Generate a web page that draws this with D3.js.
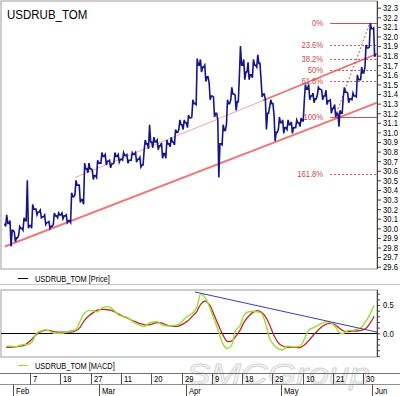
<!DOCTYPE html>
<html>
<head>
<meta charset="utf-8">
<script src="https://cdn.jsdelivr.net/npm/d3@7"></script>
<style>
  html, body { margin: 0; padding: 0; background: #fff; }
  svg { display: block; font-family: "Liberation Sans", Arial, sans-serif; }
</style>
</head>
<body>
<svg id="chart" width="400" height="396"></svg>
<script>
// ---- data ----
const symbol = "USDRUB_TOM";
const firstDay = "2013-01-30";
const lastDay = "2013-06-03";
const holidays = ["2013-03-08", "2013-05-01", "2013-05-09"];
const dayTicks = ["2013-02-07", "2013-02-18", "2013-02-27", "2013-03-11", "2013-03-20", "2013-03-29",
  "2013-04-09", "2013-04-18", "2013-04-29", "2013-05-10", "2013-05-21", "2013-05-30"];

// daily high / low / close (one entry per trading day)
const highs = [30.14, 30.08, 29.96, 30.02, 30.11, 30.5, 30.25, 30.2, 30.19, 30.14,
  30.07, 30.16, 30.16, 30.16, 30.14, 30.37, 30.5, 30.45, 30.68, 30.68,
  30.61, 30.71, 30.79, 30.77, 30.71, 30.79, 30.77, 30.79, 30.77, 30.79,
  30.79, 30.74, 30.92, 31.08, 30.95, 30.92, 30.89, 30.92, 30.95, 31.03,
  31.13, 31.13, 31.18, 31.34, 31.77, 31.76, 31.7, 31.52, 31.37, 31.13,
  31.08, 31.34, 31.47, 31.39, 31.9, 31.76, 31.73, 31.76, 31.81, 31.55,
  31.34, 31.34, 31.18, 31.16, 31.13, 31.13, 31.11, 31.13, 31.15, 31.5,
  31.5, 31.41, 31.47, 31.44, 31.44, 31.34, 31.29, 31.23, 31.47, 31.41,
  31.41, 31.6, 31.68, 31.91, 32.14, 32.09];
const lows = [30.02, 29.81, 29.86, 29.93, 29.98, 30.0, 30.0, 30.14, 30.11, 30.04,
  30.0, 30.04, 30.11, 30.1, 30.06, 30.06, 30.35, 30.27, 30.25, 30.58,
  30.51, 30.53, 30.68, 30.66, 30.63, 30.68, 30.69, 30.71, 30.68, 30.71,
  30.69, 30.64, 30.82, 30.83, 30.84, 30.82, 30.73, 30.73, 30.85, 30.87,
  31.03, 31.03, 31.05, 31.16, 31.29, 31.63, 31.53, 31.34, 31.16, 30.53,
  30.87, 31.08, 31.34, 31.23, 31.6, 31.55, 31.55, 31.57, 31.68, 31.37,
  31.03, 31.27, 30.91, 31.03, 30.99, 31.03, 30.99, 31.05, 31.06, 31.34,
  31.34, 31.31, 31.39, 31.34, 31.29, 31.2, 31.16, 31.06, 31.37, 31.31,
  31.34, 31.37, 31.55, 31.68, 31.89, 31.79];
const closes = [30.05, 29.98, 29.9, 30.0, 30.08, 30.03, 30.2, 30.17, 30.12, 30.06,
  30.02, 30.13, 30.14, 30.13, 30.08, 30.33, 30.45, 30.3, 30.62, 30.62,
  30.55, 30.68, 30.75, 30.7, 30.67, 30.75, 30.72, 30.76, 30.71, 30.77,
  30.72, 30.66, 30.88, 30.9, 30.9, 30.86, 30.78, 30.88, 30.9, 31.0,
  31.08, 31.1, 31.15, 31.3, 31.7, 31.68, 31.58, 31.38, 31.2, 30.88,
  31.02, 31.3, 31.4, 31.32, 31.7, 31.63, 31.6, 31.7, 31.72, 31.4,
  31.2, 31.3, 31.0, 31.1, 31.05, 31.08, 31.05, 31.1, 31.12, 31.45,
  31.38, 31.35, 31.45, 31.38, 31.33, 31.25, 31.2, 31.2, 31.42, 31.35,
  31.38, 31.55, 31.62, 31.88, 32.08, 31.82];

const macd = [-0.23, -0.23, -0.24, -0.22, -0.2, -0.2, -0.15, 0.0, 0.04, 0.06,
  0.04, 0.0, 0.0, 0.0, 0.02, 0.05, 0.06, 0.2, 0.35, 0.4,
  0.4, 0.38, 0.44, 0.47, 0.46, 0.4, 0.32, 0.3, 0.28, 0.22,
  0.17, 0.14, 0.12, 0.18, 0.2, 0.2, 0.15, 0.13, 0.13, 0.14,
  0.16, 0.24, 0.3, 0.35, 0.45, 0.7, 0.62, 0.46, 0.25, 0.05,
  -0.18, -0.27, -0.22, 0.05, 0.13, 0.33, 0.38, 0.39, 0.38, 0.35,
  0.15, -0.12, -0.22, -0.28, -0.29, -0.23, -0.24, -0.24, -0.22, -0.08,
  0.06, 0.1, 0.14, 0.18, 0.2, 0.19, 0.12, 0.01, 0.0, 0.05,
  0.05, 0.07, 0.1, 0.2, 0.33, 0.5];
const signal = [-0.25, -0.25, -0.24, -0.23, -0.22, -0.17, -0.1, -0.02, 0.03, 0.05,
  0.05, 0.03, 0.02, 0.02, 0.02, 0.02, 0.04, 0.1, 0.22, 0.3,
  0.36, 0.41, 0.42, 0.42, 0.41, 0.38, 0.34, 0.3, 0.27, 0.23,
  0.2, 0.17, 0.15, 0.15, 0.17, 0.19, 0.18, 0.15, 0.13, 0.12,
  0.13, 0.17, 0.22, 0.3, 0.38, 0.52, 0.57, 0.5, 0.33, 0.15,
  -0.02, -0.14, -0.14, -0.06, 0.05, 0.2, 0.3, 0.37, 0.4, 0.37,
  0.28, 0.12, -0.06, -0.18, -0.23, -0.25, -0.25, -0.25, -0.25, -0.2,
  -0.12, -0.03, 0.05, 0.12, 0.16, 0.18, 0.15, 0.09, 0.04, 0.03,
  0.04, 0.04, 0.05, 0.08, 0.17, 0.3];

// drawn studies: [trading-day index, value]
const channelLower = [[0.2, 29.81], [86.2, 31.31]];
const channelUpper = [[16.4, 30.53], [86.2, 31.82]];
const channelUpperBold = 59.8; // upper line is drawn heavier from this day on
const macdTrend = [[44.1, 0.73], [86.2, 0.02]];
const fibLevels = [0, 0.236, 0.382, 0.5, 0.618, 1, 1.618];
const fibLow = [76.5, 31.165];
const fibHigh = [84.5, 32.14];

// ---- layout ----
const svg = d3.select("#chart");
const main = { left: 1, right: 377, top: 1, bottom: 269 };
const osc = { top: 290, bottom: 357 };
const frameColor = "#9c9c9c";
const axisColor = "#404040";

// trading calendar
const fmtDay = d3.timeFormat("%Y-%m-%d");
const parse = d3.timeParse("%Y-%m-%d");
const tradingDays = d3.timeDay.range(parse(firstDay), d3.timeDay.offset(parse(lastDay), 1))
  .filter(d => d.getDay() !== 0 && d.getDay() !== 6 && !holidays.includes(fmtDay(d)));
const dayIndex = s => tradingDays.findIndex(d => fmtDay(d) === s);

const x = d3.scaleLinear().domain([0, 86]).range([4.03, 376.3]);
const y = d3.scaleLinear().domain([29.6, 32.3]).range([266.7, 7.7]);
const ym = d3.scaleLinear().domain([-0.42, 0.765]).range([osc.bottom, osc.top]);

function squeeze(sel, k) {
  sel.each(function() {
    const w = this.getComputedTextLength();
    d3.select(this).attr("textLength", w * k).attr("lengthAdjust", "spacingAndGlyphs");
  });
}

// watermark behind everything
svg.append("text")
  .attr("x", 186).attr("y", 384)
  .attr("font-size", 30).attr("font-style", "italic")
  .attr("fill", "#f3f3f3").attr("stroke", "#d4d4d4").attr("stroke-width", 0.8)
  .attr("textLength", 184).attr("lengthAdjust", "spacingAndGlyphs")
  .text("SMCGroup");

// ---- frames ----
svg.append("rect")
  .attr("x", main.left).attr("y", main.top)
  .attr("width", main.right - main.left).attr("height", main.bottom - main.top)
  .attr("fill", "none").attr("stroke", frameColor);
svg.append("line").attr("x1", 0).attr("x2", 400).attr("y1", 284.5).attr("y2", 284.5)
  .attr("stroke", "#c8c8c8");
svg.append("rect")
  .attr("x", main.left).attr("y", osc.top)
  .attr("width", main.right - main.left).attr("height", osc.bottom - osc.top)
  .attr("fill", "none").attr("stroke", frameColor);

const defs = svg.append("defs");
defs.append("clipPath").attr("id", "clipMain").append("rect")
  .attr("x", main.left).attr("y", main.top)
  .attr("width", main.right - main.left).attr("height", main.bottom - main.top);
defs.append("clipPath").attr("id", "clipOsc").append("rect")
  .attr("x", main.left).attr("y", osc.top)
  .attr("width", main.right - main.left).attr("height", osc.bottom - osc.top);

const gMain = svg.append("g").attr("clip-path", "url(#clipMain)");
const pt = d3.line().x(d => x(d[0])).y(d => y(d[1]));

// ---- channel ----
gMain.append("path").attr("d", pt(channelUpper))
  .attr("stroke", "#f4a4a4").attr("stroke-width", 1).attr("fill", "none");
const boldT = (channelUpperBold - channelUpper[0][0]) / (channelUpper[1][0] - channelUpper[0][0]);
gMain.append("path")
  .attr("d", pt([[channelUpperBold, channelUpper[0][1] + boldT * (channelUpper[1][1] - channelUpper[0][1])], channelUpper[1]]))
  .attr("stroke", "#ee7070").attr("stroke-width", 1.6).attr("fill", "none");
gMain.append("path").attr("d", pt(channelLower))
  .attr("stroke", "#f07878").attr("stroke-width", 2).attr("fill", "none");

// ---- fibonacci ----
const fibColor = "#d84a4a";
const fibX0 = x(fibLow[0]) - 5;
const range = fibHigh[1] - fibLow[1];
fibLevels.forEach(l => {
  const v = fibHigh[1] - l * range;
  const solid = l === 0 || l === 1;
  gMain.append("line")
    .attr("x1", fibX0).attr("x2", main.right)
    .attr("y1", Math.round(y(v)) + 0.5).attr("y2", Math.round(y(v)) + 0.5)
    .attr("stroke", fibColor).attr("stroke-width", 1)
    .attr("stroke-dasharray", solid ? null : "2,2");
  gMain.append("text")
    .attr("x", fibX0 - 7).attr("y", y(v) + 3)
    .attr("text-anchor", "end").attr("font-size", 9).attr("fill", "#c84a4a")
    .text(`${+(l * 100).toFixed(1)}%`)
    .call(squeeze, 0.85);
});
gMain.append("path").attr("d", pt([fibLow, fibHigh]))
  .attr("stroke", fibColor).attr("stroke-dasharray", "2,2").attr("fill", "none");

// ---- price bars (zig-zag through each day's range) ----
const pricePts = [];
closes.forEach((c, d) => {
  const o = d ? closes[d - 1] : c;
  pricePts.push([d + 0.12, o]);
  if (c >= o) {
    pricePts.push([d + 0.38, lows[d]], [d + 0.62, highs[d]]);
  } else {
    pricePts.push([d + 0.38, highs[d]], [d + 0.62, lows[d]]);
  }
  pricePts.push([d + 0.88, c]);
});
gMain.append("path").attr("d", pt(pricePts))
  .attr("stroke", "#16168a").attr("stroke-width", 1.6).attr("fill", "none")
  .attr("stroke-linejoin", "miter");

// title
svg.append("text").attr("x", 7).attr("y", 18.5)
  .attr("font-size", 12.5).attr("fill", "#000").text(symbol)
  .call(squeeze, 0.92);

// ---- price axis ----
const yAxis = d3.axisRight(y)
  .tickValues(d3.range(296, 324).map(v => v / 10))
  .tickFormat(d3.format(".1f"))
  .tickSize(4).tickSizeOuter(0).tickPadding(2);
const gy = svg.append("g").attr("transform", `translate(${main.right},0)`).call(yAxis);
gy.select(".domain").attr("d", `M0.5,${main.top}V${main.bottom}`).attr("stroke", axisColor);
gy.selectAll(".tick line").attr("stroke", axisColor);
gy.selectAll(".tick text").attr("font-size", 9).attr("fill", "#000")
  .attr("font-family", "Liberation Sans, Arial, sans-serif").call(squeeze, 0.85);

// ---- legends ----
function legend(yPos, color, label) {
  svg.append("line").attr("x1", 18).attr("x2", 28).attr("y1", yPos).attr("y2", yPos)
    .attr("stroke", color).attr("stroke-width", 1);
  svg.append("text").attr("x", 35).attr("y", yPos + 3.5)
    .attr("font-size", 9.5).attr("fill", "#000").text(label)
    .call(squeeze, 0.78);
}
legend(278.5, "#000", `${symbol} [Price]`);
legend(365.5, "#99dd33", `${symbol} [MACD]`);

// ---- MACD panel ----
const gOsc = svg.append("g").attr("clip-path", "url(#clipOsc)");
gOsc.append("line").attr("x1", main.left).attr("x2", main.right)
  .attr("y1", Math.round(ym(0)) + 0.5).attr("y2", Math.round(ym(0)) + 0.5)
  .attr("stroke", "#000");
const mline = d3.line().x((d, i) => x(i + 0.5)).y(d => ym(d)).curve(d3.curveCatmullRom.alpha(0.5));
gOsc.append("path").attr("d", mline(signal))
  .attr("stroke", "#c0282a").attr("stroke-width", 1.3).attr("fill", "none");
gOsc.append("path").attr("d", mline(macd))
  .attr("stroke", "#99dd33").attr("stroke-width", 1.4).attr("fill", "none");
gOsc.append("path")
  .attr("d", d3.line().x(d => x(d[0])).y(d => ym(d[1]))(macdTrend))
  .attr("stroke", "#3c3cb4").attr("stroke-width", 1).attr("fill", "none");

const mAxis = d3.axisRight(ym)
  .tickValues(d3.range(-4, 8).map(v => v / 10))
  .tickFormat(v => (Math.abs(v) < 1e-9 || Math.abs(v - 0.5) < 1e-9) ? d3.format(".1f")(v) : "")
  .tickSize(3).tickSizeOuter(0).tickPadding(3);
const gm = svg.append("g").attr("transform", `translate(${main.right},0)`).call(mAxis);
gm.select(".domain").attr("d", `M0.5,${osc.top}V${osc.bottom}`).attr("stroke", axisColor);
gm.selectAll(".tick line").attr("stroke", axisColor);
gm.selectAll(".tick text").attr("font-size", 9).attr("fill", "#000")
  .attr("font-family", "Liberation Sans, Arial, sans-serif").call(squeeze, 0.85);

// ---- date rows ----
const row1 = 373.5, row2 = 384.5, rowEnd = 396;
svg.append("line").attr("x1", 0).attr("x2", 400).attr("y1", row1).attr("y2", row1).attr("stroke", "#707070");
svg.append("line").attr("x1", 0).attr("x2", 400).attr("y1", row2).attr("y2", row2).attr("stroke", "#909090");

dayTicks.forEach(s => {
  const xi = Math.round(x(dayIndex(s))) + 0.5;
  svg.append("line").attr("x1", xi).attr("x2", xi).attr("y1", row1).attr("y2", row2)
    .attr("stroke", "#505050");
  svg.append("text").attr("x", xi + 2.5).attr("y", row2 - 2.5)
    .attr("font-size", 9).attr("fill", "#000").text(+s.slice(8))
    .call(squeeze, 0.85);
});

// month boundaries from the first trading day of each month
const fmtMonth = d3.timeFormat("%b");
tradingDays.forEach((d, i) => {
  if (i === 0 || d.getMonth() === tradingDays[i - 1].getMonth()) return;
  const xi = Math.round(x(i)) + 0.5;
  svg.append("line").attr("x1", xi).attr("x2", xi).attr("y1", row2).attr("y2", rowEnd)
    .attr("stroke", "#505050");
  svg.append("text").attr("x", xi + 2.5).attr("y", rowEnd - 2.5)
    .attr("font-size", 9).attr("fill", "#000").text(fmtMonth(d))
    .call(squeeze, 0.85);
});
</script>
</body>
</html>
